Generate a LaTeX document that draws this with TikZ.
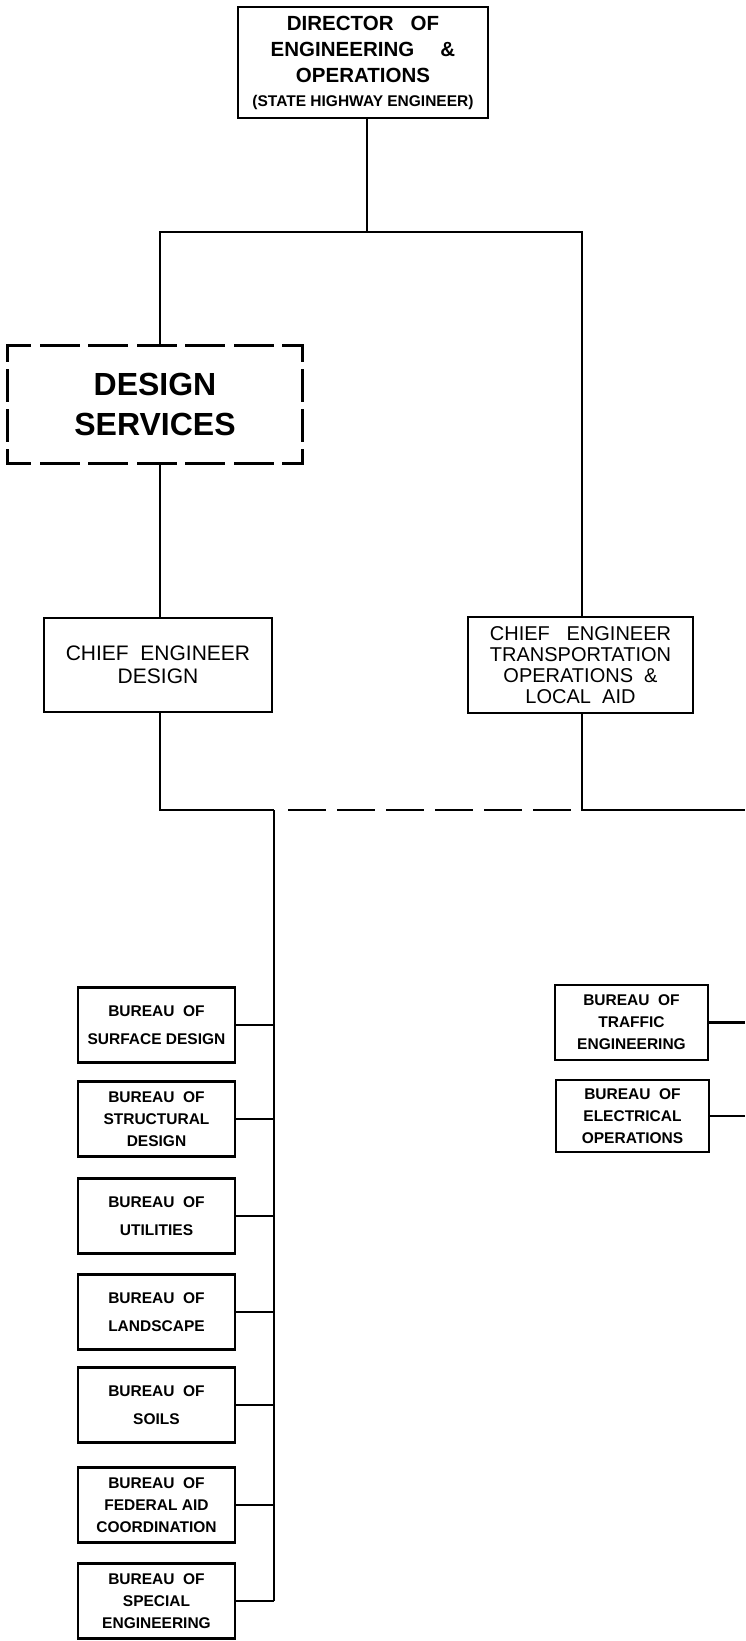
\documentclass[tikz,border=0pt]{standalone}
\usepackage{fontspec}
\setmainfont{Liberation Sans}
\begin{document}
\begin{tikzpicture}[x=1pt,y=-1pt,
  link/.style={line width=2.8pt},
  dashlink/.style={line width=2.8pt, dash pattern=on 38pt off 11pt},
  box/.style={draw, line width=2.8pt, rectangle, inner sep=0pt, align=center},
  hedge/.style={line width=2.8pt, line cap=rect, dash pattern=on 37pt off 11.5pt, dash phase=15pt},
  vedge/.style={line width=2.8pt, line cap=rect, dash pattern=on 30pt off 10pt, dash phase=15pt},
  bureau/.style={box, minimum width=157pt, minimum height=75pt,
    font=\bfseries\fontsize{15.5}{28}\selectfont},
  bureauiii/.style={bureau, font=\bfseries\fontsize{15.5}{22}\selectfont},
  rbureau/.style={bureauiii, minimum width=153pt}]
\useasboundingbox (0,0) rectangle (745,1641);
\fill[white] (0,0) rectangle (745,1641);

% guide positions of the vertical runs and horizontal bars
\coordinate (D) at (367,0);
\coordinate (L) at (160,0);
\coordinate (R) at (582,0);
\coordinate (B) at (274,0);
\coordinate (E) at (745,0);
\coordinate (tbar) at (0,232);
\coordinate (mbar) at (0,810);
\coordinate (gapL) at (288,810);
\coordinate (gapR) at (572,810);

% top office
\node[box, minimum width=250pt, minimum height=111pt,
  font=\bfseries\fontsize{20.5}{26}\selectfont] (dir) at (363,62.5)
  {DIRECTOR\ \ \ OF\\ENGINEERING\quad\ \&\\OPERATIONS\\[-2pt]
   {\fontsize{15.5}{20}\selectfont (STATE HIGHWAY ENGINEER)}};

% design services group, outlined edge by edge so every corner is a solid L
\node[inner sep=0pt, minimum width=294pt, minimum height=117pt, align=center,
  font=\bfseries\fontsize{32}{40}\selectfont] (ds) at (155,404.5)
  {DESIGN\\SERVICES};
\draw[hedge] (ds.north west) -- (ds.north east);
\draw[hedge] (ds.south west) -- (ds.south east);
\draw[vedge] (ds.north west) -- (ds.south west);
\draw[vedge] (ds.north east) -- (ds.south east);

% chief engineers
\node[box, minimum width=228pt, minimum height=94pt,
  font=\fontsize{21}{23.5}\selectfont] (ced) at (158,665)
  {CHIEF\ \ ENGINEER\\DESIGN};
\node[box, minimum width=225pt, minimum height=96pt,
  font=\fontsize{20}{21}\selectfont] (ctol) at (580.5,665)
  {CHIEF\ \ \ ENGINEER\\TRANSPORTATION\\OPERATIONS\ \ \&\\LOCAL\ \ AID};

% design bureaus
\node[bureau]    (b1) at (156.5,1025) {BUREAU\ \ OF\\SURFACE DESIGN};
\node[bureauiii] (b2) at (156.5,1119) {BUREAU\ \ OF\\STRUCTURAL\\DESIGN};
\node[bureau]    (b3) at (156.5,1216) {BUREAU\ \ OF\\UTILITIES};
\node[bureau]    (b4) at (156.5,1312) {BUREAU\ \ OF\\LANDSCAPE};
\node[bureau]    (b5) at (156.5,1405) {BUREAU\ \ OF\\SOILS};
\node[bureauiii] (b6) at (156.5,1505) {BUREAU\ \ OF\\FEDERAL AID\\COORDINATION};
\node[bureauiii] (b7) at (156.5,1601) {BUREAU\ \ OF\\SPECIAL\\ENGINEERING};

% operations bureaus
\node[rbureau] (t1) at (631.5,1022.5) {BUREAU\ \ OF\\TRAFFIC\\ENGINEERING};
\node[rbureau, minimum height=72pt] (t2) at (632.5,1116) {BUREAU\ \ OF\\ELECTRICAL\\OPERATIONS};

% upper connectors
\draw[link] (dir.south -| D) -- (tbar -| D);
\draw[link] (ds.north -| L) -- (tbar -| L) -- (tbar -| R) -- (ctol.north -| R);
\draw[link] (ds.south -| L) -- (ced.north -| L);

% middle bar
\draw[link] (ced.south -| L) -- (mbar -| L) -- (mbar -| B);
\draw[dashlink] (gapL) -- (gapR);
\draw[link] (ctol.south -| R) -- (mbar -| R) -- (mbar -| E);

% design bureau bus
\draw[link] (mbar -| B) -- (b7.east -| B);
\foreach \b in {b1,b2,b3,b4,b5,b6,b7}
  \draw[link] (\b.east) -- (\b.east -| B);

% operations bureau feeds
\foreach \b in {t1,t2}
  \draw[link] (\b.east) -- (\b.east -| E);
\end{tikzpicture}
\end{document}
